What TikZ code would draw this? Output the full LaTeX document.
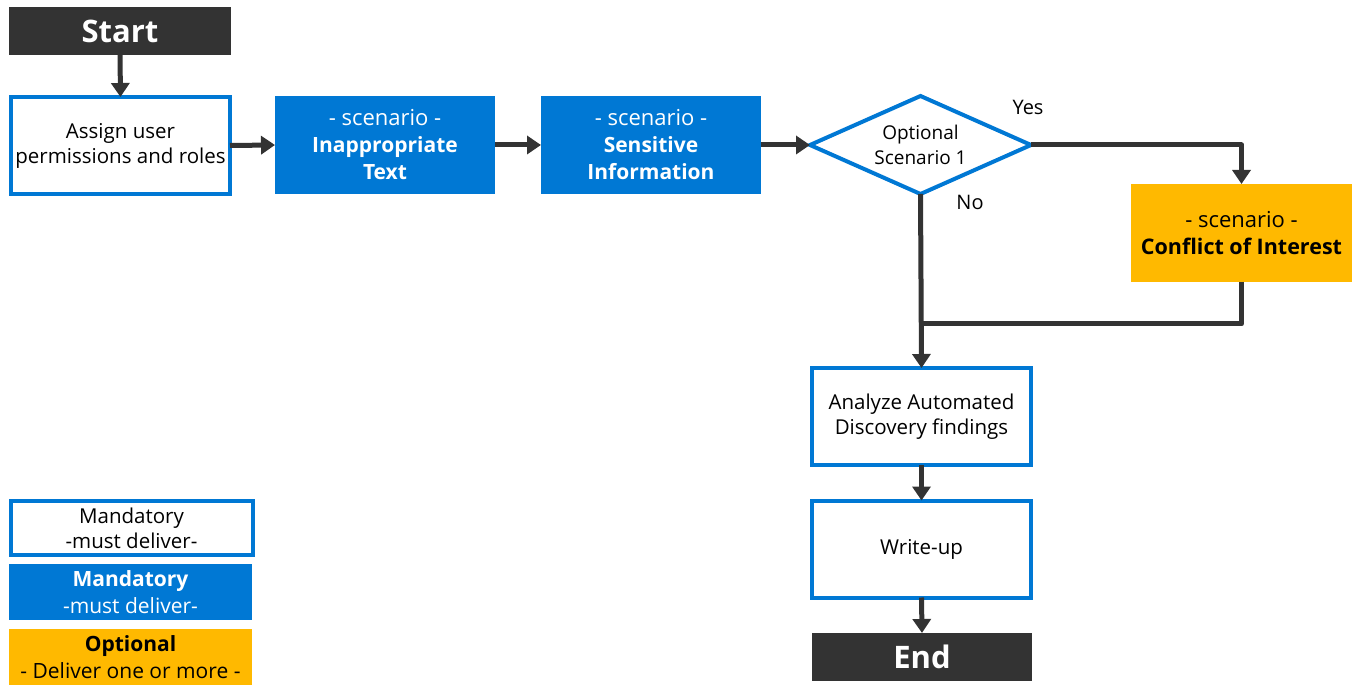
\documentclass[tikz,border=0pt]{standalone}
\usepackage{fontspec}
\setmainfont{Open Sans}
\usetikzlibrary{arrows.meta,shapes.geometric}
\definecolor{msblue}{HTML}{0078D4}
\definecolor{msorange}{HTML}{FFB900}
\definecolor{dark}{HTML}{333333}
\newcommand{\scen}{{\fontsize{22}{27}\selectfont - scenario -}}
\tikzset{
  every node/.style={inner sep=0pt, outer sep=0pt, align=center},
  termbox/.style={rectangle, fill=dark, text=white, font=\fontsize{31}{34}\selectfont\bfseries, minimum width=#1, minimum height=48pt},
  whitebox/.style={rectangle, draw=msblue, line width=4pt, fill=white, text=black, font=\fontsize{20.5}{25}\selectfont, minimum width=#1, minimum height=97pt},
  bluebox/.style={rectangle, fill=msblue, text=white, font=\fontsize{21}{27}\selectfont, minimum width=220pt, minimum height=98pt},
  orangebox/.style={rectangle, fill=msorange, text=black, font=\fontsize{21.5}{27}\selectfont, minimum width=221pt, minimum height=98pt},
  conn/.style={draw=dark, line width=5pt, -{Triangle[width=18pt,length=14pt]}},
  plain/.style={draw=dark, line width=5pt},
  lbl/.style={font=\fontsize{20}{24}\selectfont, text=black},
}
\begin{document}
\begin{tikzpicture}[x=1pt,y=-1pt]
\useasboundingbox (0,0) rectangle (1357,700);
% main nodes
\node[termbox=222pt] (start) at (120,31) {Start};
\node[whitebox=219pt] (assign) at (120.5,145.5) {Assign user\\permissions and roles};
\node[bluebox] (inapp) at (385,145) {\scen\\\textbf{Inappropriate}\\\textbf{Text}};
\node[bluebox] (sens) at (651,145) {\scen\\\textbf{Sensitive}\\\textbf{Information}};
\node[diamond, draw=msblue, line width=4pt, fill=white, minimum width=221pt, minimum height=98pt, shape aspect=2.25, font=\fontsize{19}{25}\selectfont] (dec) at (920.5,145) {Optional\\Scenario 1};
\node[orangebox] (coi) at (1241.5,233) {\scen\\\textbf{Conflict of Interest}};
\node[whitebox=219pt] (analyze) at (921.5,416.5) {Analyze Automated\\Discovery findings};
\node[whitebox=219pt] (write) at (921.5,549) {Write-up};
\node[termbox=220pt] (end) at (922,657) {End};
% labels
\node[lbl] (yes) at (1028,107) {Yes};
\node[lbl] (no) at (970,202) {No};
% legend
\node[whitebox=242pt, minimum height=54pt] (leg1) at (131.5,528) {Mandatory\\-must deliver-};
\node[rectangle, fill=msblue, text=white, minimum width=243pt, minimum height=56pt, font=\fontsize{21}{27}\selectfont] (leg2) at (130.5,592) {\textbf{Mandatory}\\-must deliver-};
\node[rectangle, fill=msorange, text=black, minimum width=243pt, minimum height=56pt, font=\fontsize{21}{27}\selectfont] (leg3) at (130.5,657) {\textbf{Optional}\\- Deliver one or more -};
% connectors
\coordinate (yesturn) at (coi.north |- dec.east);
\coordinate (join) at (dec.south |- 0,324);
\coordinate (coiturn) at (coi.south |- join);
\draw[conn] (start.south) -- (assign.north);
\draw[conn] (assign.east) -- (inapp.west);
\draw[conn] (inapp.east) -- (sens.west);
\draw[conn] (sens.east) -- (dec.west);
\draw[conn, line join=round] (dec.east) -- (yesturn) -- (coi.north);
\draw[conn] (dec.south) -- (analyze.north);
\draw[plain, line join=round] (coi.south) -- (coiturn) -- (join);
\draw[conn] (analyze.south) -- (write.north);
\draw[conn] (write.south) -- (end.north);
\end{tikzpicture}
\end{document}
